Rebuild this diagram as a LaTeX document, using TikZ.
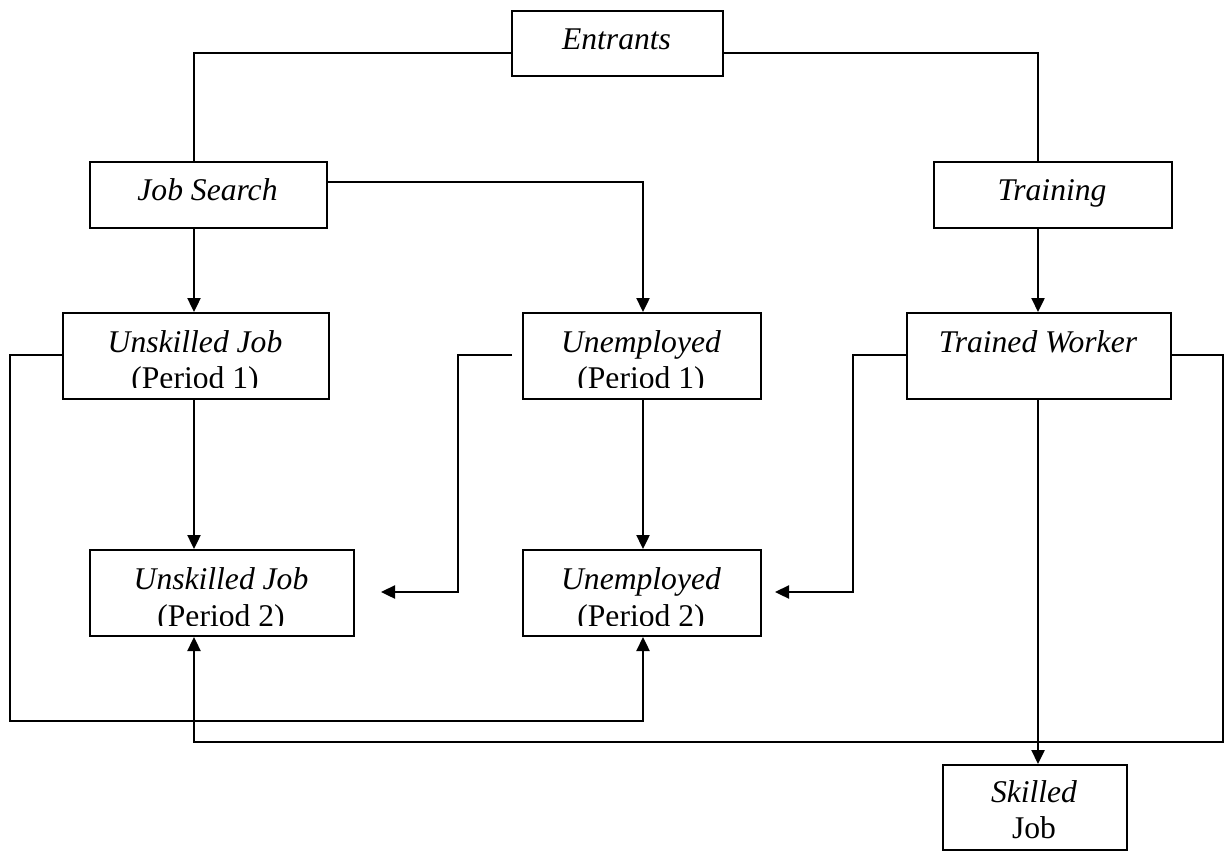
\documentclass[tikz,border=0pt]{standalone}
\usepackage{fontspec}
\setmainfont{Liberation Serif}
\usetikzlibrary{arrows.meta}
\tikzset{
  box/.style={draw, line width=1pt, inner sep=0pt, anchor=north west},
  lbl/.style={anchor=base, inner sep=0pt, font=\fontsize{15.8}{18}\selectfont},
  conn/.style={line width=0.8pt},
  arr/.style={line width=1.2pt, -{Triangle[length=7pt,width=6.5pt]}},
}
\begin{document}
\begin{tikzpicture}[x=0.5pt,y=-0.5pt]
\useasboundingbox (0,0) rectangle (1224,850);
% boxes
\node[box, minimum width=105.5pt, minimum height=32.5pt] (ent) at (511,10) {};
\node[box, minimum width=118.5pt, minimum height=33pt] (js) at (89,161) {};
\node[box, minimum width=119pt, minimum height=33pt] (tr) at (933,161) {};
\node[box, minimum width=133pt, minimum height=43pt] (uj1) at (62,312) {};
\node[box, minimum width=119pt, minimum height=43pt] (un1) at (522,312) {};
\node[box, minimum width=132pt, minimum height=43pt] (tw) at (906,312) {};
\node[box, minimum width=132pt, minimum height=43pt] (uj2) at (89,549) {};
\node[box, minimum width=119pt, minimum height=43pt] (un2) at (522,549) {};
\node[box, minimum width=92pt, minimum height=42.5pt] (sk) at (942,764) {};
% texts
\node[lbl] (tEnt) at (616.5,50) {\itshape Entrants};
\node[lbl] (tJs) at (207.5,200) {\itshape Job Search};
\node[lbl] (tTr) at (1052,200) {\itshape Training};
\node[lbl] (tUj1) at (195,352) {\itshape Unskilled Job};
\node[lbl] (tUn1) at (641,352) {\itshape Unemployed};
\node[lbl] (tTw) at (1038,352) {\itshape Trained Worker};
\node[lbl] (tUj2) at (221,589) {\itshape Unskilled Job};
\node[lbl] (tUn2) at (641,589) {\itshape Unemployed};
\node[lbl] (tSk) at (1034,802) {\itshape Skilled};
\node[lbl] (tSkb) at (1034,838) {Job};
\begin{scope}
  \clip (62,312) rectangle (760,387.5);
  \node[lbl] (tUj1b) at (195,388) {(Period 1)};
  \node[lbl] (tUn1b) at (641,388) {(Period 1)};
\end{scope}
\begin{scope}
  \clip (89,549) rectangle (760,625.5);
  \node[lbl] (tUj2b) at (221,626) {(Period 2)};
  \node[lbl] (tUn2b) at (641,626) {(Period 2)};
\end{scope}
% helper coordinates
\coordinate (colA) at (194,0);
\coordinate (colB) at (643,0);
\coordinate (colC) at (1038,0);
\coordinate (c1) at (194,53);
\coordinate (c2) at (1038,53);
\coordinate (r1) at (643,182);
\coordinate (l1) at (10,355);
\coordinate (l2) at (10,721);
\coordinate (m1) at (458,355);
\coordinate (m2) at (458,592);
\coordinate (m3) at (381,592);
\coordinate (n1) at (853,355);
\coordinate (n2) at (853,592);
\coordinate (n3) at (775,592);
\coordinate (p1) at (1223,355);
\coordinate (p2) at (1223,742);
% connectors
\draw[conn] (ent.west |- c1) -- (c1) -- (c1 |- js.north);
\draw[conn] (ent.east |- c2) -- (c2) -- (c2 |- tr.north);
\draw[arr] (colA |- js.south) -- (colA |- uj1.north);
\draw[arr] (js.east |- r1) -- (r1) -- (colB |- un1.north);
\draw[arr] (colC |- tr.south) -- (colC |- tw.north);
\draw[arr] (colA |- uj1.south) -- (colA |- uj2.north);
\draw[arr] (colB |- un1.south) -- (colB |- un2.north);
\draw[arr] (uj1.west |- l1) -- (l1) -- (l2) -- (colB |- l2) -- (colB |- un2.south);
\draw[arr, shorten <=5pt] (un1.west |- m1) -- (m1) -- (m2) -- (m3);
\draw[arr] (tw.west |- n1) -- (n1) -- (n2) -- (n3);
\draw[arr] (tw.east |- p1) -- (p1) -- (p2) -- (colA |- p2) -- (colA |- uj2.south);
\draw[arr] (colC |- tw.south) -- (colC |- sk.north);
\end{tikzpicture}
\end{document}
